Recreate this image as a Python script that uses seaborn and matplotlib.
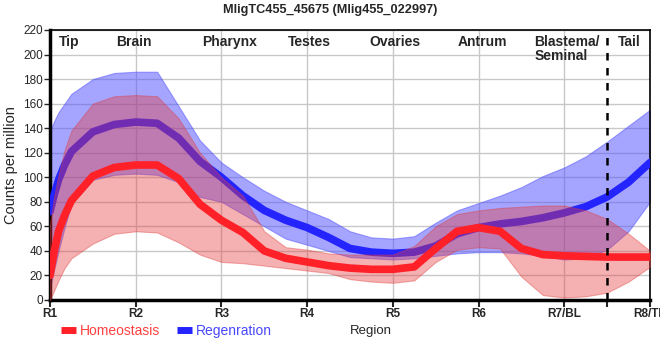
import matplotlib
matplotlib.use("Agg")
import matplotlib.pyplot as plt
from matplotlib.lines import Line2D
import pandas as pd
import seaborn as sns

# positions along the body, in region units (R1 = 0 ... R8/TL = 7)
pos = [0, 0.05, 0.1, 0.17, 0.25, 0.5, 0.75, 1, 1.25, 1.5, 1.75, 2, 2.25, 2.5, 2.75, 3,
       3.25, 3.5, 3.75, 4, 4.25, 4.5, 4.75, 5, 5.25, 5.5, 5.75, 6, 6.25, 6.5, 6.75, 7]

homeo_mean = [20, 40, 56, 69, 81, 101, 108, 110, 110, 99, 78, 65, 55, 40, 34, 31,
              28, 26, 25, 25, 27, 42, 56, 59, 56, 42, 37, 36, 35.5, 35, 35, 35]
homeo_high = [62, 85, 102, 122, 138, 160, 166, 167, 166, 148, 120, 100, 85, 56, 43, 41,
              38, 37, 37, 37, 44, 60, 70, 73, 75, 76, 77, 77, 73, 66, 54, 40]
homeo_low = [0, 8, 16, 26, 34, 46, 54, 56, 55, 47, 37, 31, 30, 28, 26, 24,
             22, 17, 15, 14, 16, 31, 41, 43, 42, 19, 4, 2, 3, 6, 15, 27]

regen_mean = [72, 86, 98, 110, 121, 137, 143, 145, 144, 132, 113, 100, 85, 73, 65, 59,
              51, 42, 39, 38, 39, 44, 54, 59, 62, 64, 67, 71, 76, 84, 96, 112]
regen_high = [138, 146, 153, 160, 168, 180, 185, 186, 186, 158, 130, 112, 100, 89, 80, 73,
              66, 56, 51, 50, 52, 63, 73, 79, 85, 92, 101, 108, 117, 129, 142, 155]
regen_low = [10, 25, 40, 59, 78, 98, 102, 103, 102, 96, 84, 80, 70, 60, 50, 45,
             40, 35, 34, 33, 34, 36, 38, 39, 39, 38, 36, 33, 34, 41, 56, 80]

tick_labels = ["R1", "R2", "R3", "R4", "R5", "R6", "R7/BL", "R8/TL"]
organs = ["Tip", "Brain", "Pharynx", "Testes", "Ovaries", "Antrum", "Blastema/\nSeminal", "Tail"]
organ_pos = [0.1, 0.98, 2.1, 3.03, 4.02, 5.05, 5.65, 6.76]
blastema_cut = 6.5

red = "#ff2028"
blue = "#2424ff"

df = pd.concat([
    pd.DataFrame({"pos": pos, "cpm": homeo_mean, "cond": "Homeostasis"}),
    pd.DataFrame({"pos": pos, "cpm": regen_mean, "cond": "Regenration"}),
])

sns.set_style("white")
plt.rcParams["font.family"] = ["Liberation Sans", "DejaVu Sans"]

fig = plt.figure(figsize=(6.6, 3.6), dpi=100)
ax = fig.add_axes([50 / 660, 60 / 360, 600 / 660, 270 / 360])

# regeneration first, homeostasis on top
ax.fill_between(pos, regen_low, regen_high, color="#4d4dff", alpha=0.5, lw=0.8,
                edgecolor="#4d4dff", zorder=2)
sns.lineplot(data=df[df.cond == "Regenration"], x="pos", y="cpm", color=blue,
             linewidth=5.5, ax=ax, zorder=3, legend=False, solid_joinstyle="round")
ax.fill_between(pos, homeo_low, homeo_high, color="#e63c3c", alpha=0.4, lw=0.8,
                edgecolor="#e03a3a", zorder=4)
sns.lineplot(data=df[df.cond == "Homeostasis"], x="pos", y="cpm", color=red,
             linewidth=5.5, ax=ax, zorder=5, legend=False, solid_joinstyle="round")

ax.axvline(blastema_cut, color="black", linestyle=(0, (3, 3)), linewidth=1.8, zorder=6)

ax.set_xlim(0, 7)
ax.set_ylim(0, 220)
ax.set_xticks(range(8))
ax.set_xticklabels(tick_labels, fontsize=8.5, fontweight="bold")
ax.set_xticks([blastema_cut], minor=True)
ax.set_yticks(range(0, 221, 20))
ax.tick_params(axis="y", labelsize=8.5, length=4, width=1, left=True, pad=1)
ax.tick_params(axis="x", which="both", length=5, width=1.5, bottom=True, pad=1)
ax.grid(True, color="#c8c8c8", linewidth=1, zorder=0)
ax.set_axisbelow(True)

for side in ["top", "right"]:
    ax.spines[side].set_linewidth(1.2)
    ax.spines[side].set_color("black")
for side in ["left", "bottom"]:
    ax.spines[side].set_linewidth(2.5)
    ax.spines[side].set_color("black")

for name, xp in zip(organs, organ_pos):
    ha = "left" if name.startswith("Blastema") or name == "Tip" else "center"
    ax.text(xp, 216, name, ha=ha, va="top", fontsize=10, fontweight="bold",
            linespacing=1.0, zorder=7)

ax.set_xlabel("")
ax.set_ylabel("Counts per million", fontsize=10.5, labelpad=4)
fig.text(350 / 660, 1 - 331 / 360, "Region", ha="left", va="center", fontsize=9.5)
fig.suptitle("MligTC455_45675 (Mlig455_022997)", x=0.5, y=0.99, fontsize=9.2,
             fontweight="bold")

handles = [Line2D([0], [0], color=red, linewidth=5, solid_capstyle="butt"),
           Line2D([0], [0], color=blue, linewidth=5, solid_capstyle="butt")]
fig.legend(handles, ["Homeostasis", "Regenration"], loc="center left",
           bbox_to_anchor=(48 / 660, 1 - 331 / 360), ncol=2, frameon=False,
           fontsize=10, handlelength=1.1, handletextpad=0.3, columnspacing=1.2,
           labelcolor=["#ff4040", "#4848ff"])

fig.savefig("out.png", dpi=100)
